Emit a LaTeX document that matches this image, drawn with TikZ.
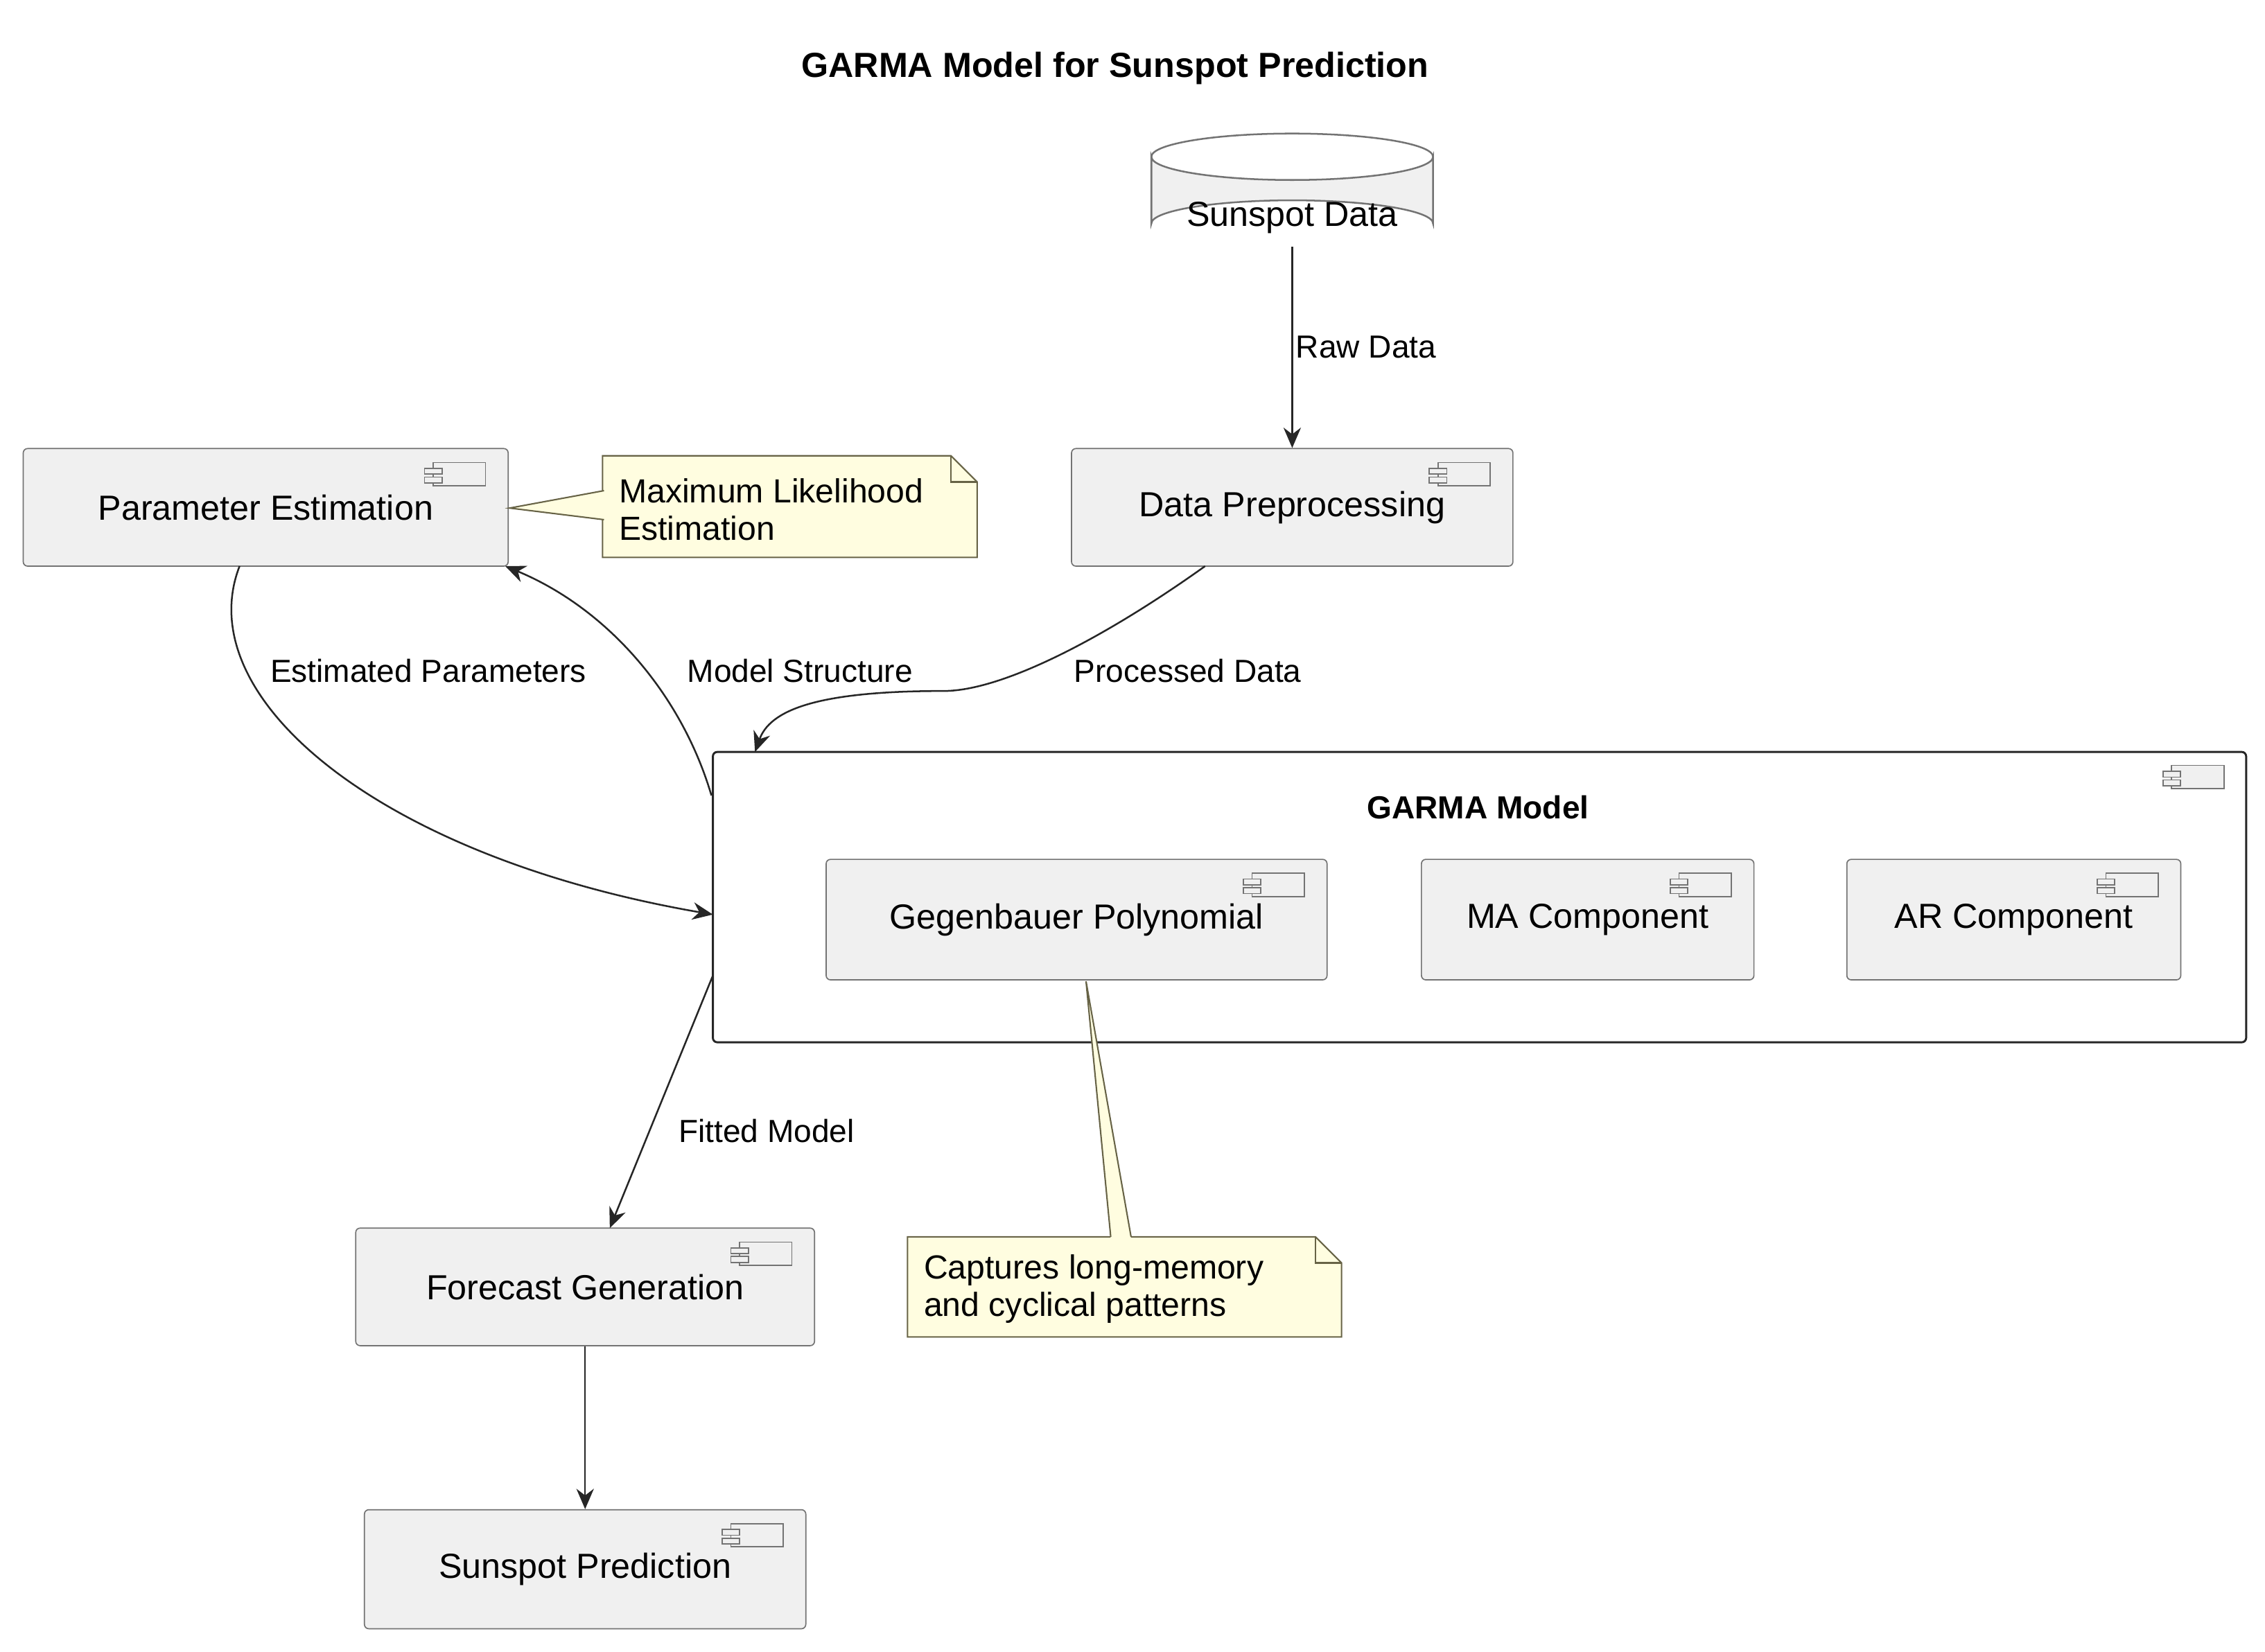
\documentclass[tikz,border=0pt]{standalone}
\usepackage{fontspec}
\setmainfont{Liberation Sans}
\usetikzlibrary{arrows.meta}
\begin{document}
\begin{tikzpicture}[x=0.5pt,y=-0.5pt,
  comp/.style={draw=black!55,fill=black!6,rounded corners=1.5pt,font=\fontsize{12}{14}\selectfont,inner sep=0pt},
  note/.style={font=\fontsize{11.5}{13}\selectfont,align=left,inner sep=0pt,anchor=west},
  lab/.style={font=\fontsize{11}{13}\selectfont,fill=white,inner sep=1pt},
  arr/.style={-{Stealth[length=7pt,width=6pt]},draw=black!85,line width=0.6pt}]
\useasboundingbox (0,0) rectangle (1560,1138);
\newcommand\cicon[1]{\draw[black!55,fill=black!6,line width=0.4pt] ([shift={(-26pt,-5pt)}]#1.north east) rectangle ([shift={(-8pt,-13pt)}]#1.north east);
 \draw[black!55,fill=black!6,line width=0.4pt] ([shift={(-29pt,-7pt)}]#1.north east) rectangle ([shift={(-23pt,-9pt)}]#1.north east);
 \draw[black!55,fill=black!6,line width=0.4pt] ([shift={(-29pt,-10pt)}]#1.north east) rectangle ([shift={(-23pt,-12pt)}]#1.north east);}
\node[font=\bfseries\fontsize{12}{14}\selectfont] (title) at (768,47) {GARMA Model for Sunspot Prediction};
% cylinder
\draw[black!55,fill=black!6,line width=0.6pt] (793,108) -- (793,154) arc[start angle=180,end angle=360,x radius=97,y radius=16] -- (987,108) arc[start angle=0,end angle=180,x radius=97,y radius=16] -- cycle;
\draw[black!55,line width=0.6pt] (793,108) arc[start angle=180,end angle=360,x radius=97,y radius=16];
\node[font=\fontsize{12}{14}\selectfont] (sd) at (890,150) {Sunspot Data};
\coordinate (sdb) at (890,170);
% boxes
\node[comp,minimum width=167pt,minimum height=40.5pt] (pe) at (183,349.5) {Parameter Estimation};
\node[comp,minimum width=152pt,minimum height=40.5pt] (dp) at (890,349.5) {Data Preprocessing};
\node[draw=black!85,line width=0.7pt,rounded corners=1.5pt,minimum width=528pt,minimum height=100pt,inner sep=0pt] (gm) at (1019,618) {};
\node[font=\bfseries\fontsize{11}{13}\selectfont] (gmt) at (1018,556) {GARMA Model};
\node[comp,minimum width=172.5pt,minimum height=41.5pt] (gp) at (741.5,633.5) {Gegenbauer Polynomial};
\node[comp,minimum width=114.5pt,minimum height=41.5pt] (ma) at (1093.5,633.5) {MA Component};
\node[comp,minimum width=115pt,minimum height=41.5pt] (ar) at (1387,633.5) {AR Component};
\node[comp,minimum width=158pt,minimum height=40.5pt] (fg) at (403,886.5) {Forecast Generation};
\node[comp,minimum width=152pt,minimum height=41pt] (sp) at (403,1081) {Sunspot Prediction};
\cicon{pe}\cicon{dp}\cicon{gp}\cicon{ma}\cicon{ar}\cicon{fg}\cicon{sp}\cicon{gm}
% notes
\draw[draw=black!55!yellow!70!black,fill=yellow!12,line width=0.5pt] (415,314) -- (655,314) -- (673,332) -- (673,384) -- (415,384) -- cycle;
\draw[draw=black!55!yellow!70!black,line width=0.5pt] (655,314) -- (655,332) -- (673,332);
\fill[yellow!12] (351,350) -- (416,338) -- (416,358) -- cycle;
\draw[draw=black!55!yellow!70!black,line width=0.5pt] (416,338) -- (351,350) -- (416,358);
\node[note] (n1) at (426,351) {Maximum Likelihood\\Estimation};
\draw[draw=black!55!yellow!70!black,fill=yellow!12,line width=0.5pt] (625,852) -- (906,852) -- (924,870) -- (924,921) -- (625,921) -- cycle;
\draw[draw=black!55!yellow!70!black,line width=0.5pt] (906,852) -- (906,870) -- (924,870);
\fill[yellow!12] (748,676) -- (765,853) -- (779,853) -- cycle;
\draw[draw=black!55!yellow!70!black,line width=0.5pt] (765,852) -- (748,676) -- (779,852);
\node[note] (n2) at (636,888) {Captures long-memory\\and cyclical patterns};
% arrows
\draw[arr] (sdb) -- (dp.north) node[lab,pos=0.5,right,fill=none] {Raw Data};
\draw[arr] (830,390) .. controls (760,440) and (690,476) .. (650,476) .. controls (560,476) and (530,490) .. (520,518);
\node[lab] (l1) at (818,462) {Processed Data};
\draw[arr] (490,548) .. controls (470,480) and (420,420) .. (348,390);
\node[lab] (l2) at (551,462) {Model Structure};
\draw[arr] (165,390) .. controls (130,480) and (260,590) .. (491,630);
\node[lab] (l3) at (295,462) {Estimated Parameters};
\draw[arr] (491,672) -- (420,846);
\node[lab,fill=none] (l4) at (528,779) {Fitted Model};
\draw[arr] (fg.south) -- (sp.north);
\end{tikzpicture}
\end{document}
